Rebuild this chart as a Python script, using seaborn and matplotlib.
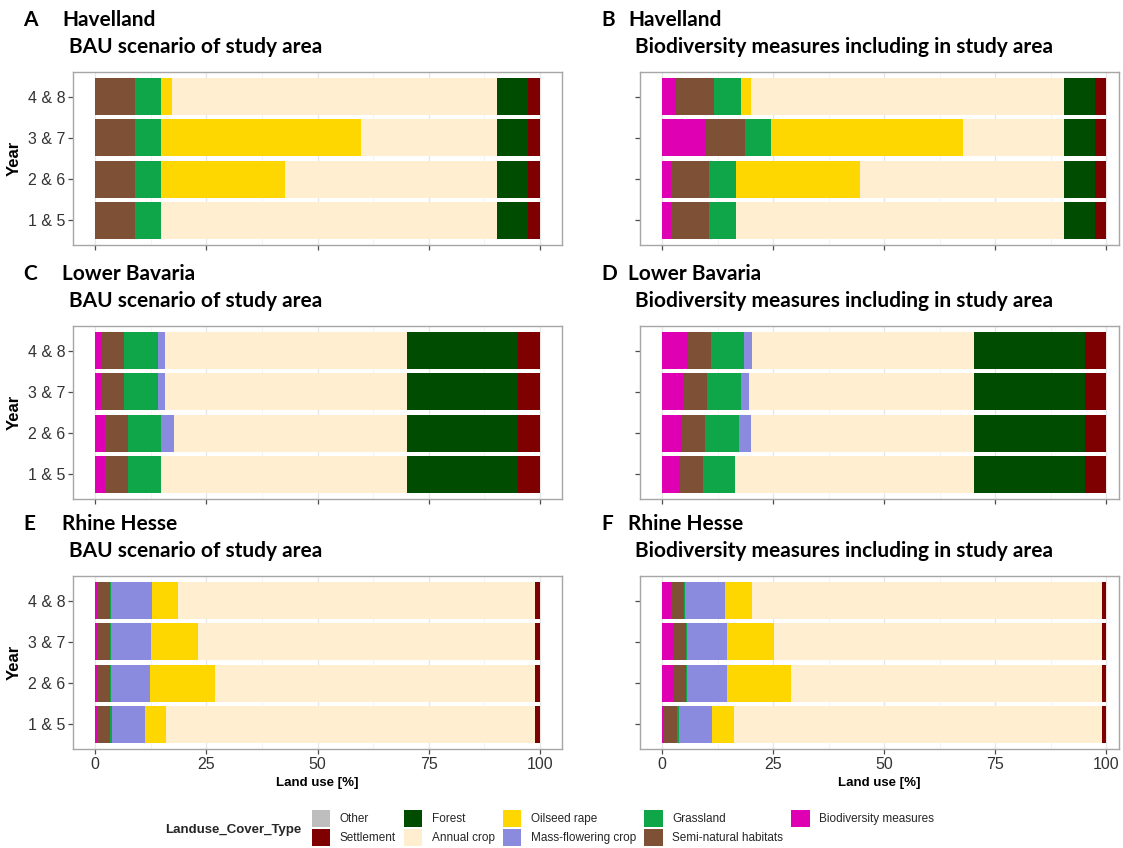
import matplotlib
matplotlib.use("Agg")
import matplotlib.pyplot as plt
from matplotlib.patches import Patch
import numpy as np
import pandas as pd
import seaborn as sns

# ---------------------------------------------------------------- data
years = ["1 & 5", "2 & 6", "3 & 7", "4 & 8"]

# legend order (ggplot factor levels)
cover_types = ["Other", "Settlement", "Forest", "Annual crop", "Oilseed rape",
               "Mass-flowering crop", "Grassland", "Semi-natural habitats",
               "Biodiversity measures"]
cover_colors = ["#BEBEBE", "#7F0000", "#004C00", "#FFEED0", "#FFD700",
                "#8A8ADF", "#0FA64A", "#7E5036", "#DE00B2"]

# shares [%] per cover type, rows in the order of `years`
havelland_bau = {
    "Biodiversity measures": [0.0, 0.0, 0.0, 0.0],
    "Semi-natural habitats": [8.9, 8.9, 8.9, 8.9],
    "Grassland": [6.0, 6.0, 6.0, 6.0],
    "Mass-flowering crop": [0.0, 0.0, 0.0, 0.0],
    "Oilseed rape": [0.0, 27.7, 44.8, 2.3],
    "Annual crop": [75.4, 47.7, 30.6, 73.1],
    "Forest": [7.1, 7.1, 7.1, 7.1],
    "Settlement": [2.6, 2.6, 2.6, 2.6],
    "Other": [0.0, 0.0, 0.0, 0.0],
}
havelland_bm = {
    "Biodiversity measures": [1.9, 2.0, 9.8, 3.0],
    "Semi-natural habitats": [8.7, 8.6, 8.8, 8.7],
    "Grassland": [6.0, 6.0, 6.0, 6.0],
    "Mass-flowering crop": [0.0, 0.0, 0.0, 0.0],
    "Oilseed rape": [0.0, 28.0, 43.1, 2.3],
    "Annual crop": [73.8, 45.8, 22.7, 70.4],
    "Forest": [7.1, 7.1, 7.1, 7.1],
    "Settlement": [2.5, 2.5, 2.5, 2.5],
    "Other": [0.0, 0.0, 0.0, 0.0],
}
bavaria_bau = {
    "Biodiversity measures": [2.1, 2.1, 1.2, 1.2],
    "Semi-natural habitats": [5.2, 5.2, 5.2, 5.2],
    "Grassland": [7.4, 7.6, 7.7, 7.7],
    "Mass-flowering crop": [0.0, 2.8, 1.7, 1.7],
    "Oilseed rape": [0.0, 0.0, 0.0, 0.0],
    "Annual crop": [55.4, 52.4, 54.3, 54.3],
    "Forest": [25.1, 25.1, 25.1, 25.1],
    "Settlement": [4.8, 4.8, 4.8, 4.8],
    "Other": [0.0, 0.0, 0.0, 0.0],
}
bavaria_bm = {
    "Biodiversity measures": [3.9, 4.4, 4.9, 5.7],
    "Semi-natural habitats": [5.2, 5.3, 5.3, 5.3],
    "Grassland": [7.4, 7.6, 7.5, 7.5],
    "Mass-flowering crop": [0.0, 2.8, 1.8, 1.8],
    "Oilseed rape": [0.0, 0.0, 0.0, 0.0],
    "Annual crop": [53.7, 50.1, 50.7, 49.9],
    "Forest": [25.1, 25.1, 25.1, 25.1],
    "Settlement": [4.7, 4.7, 4.7, 4.7],
    "Other": [0.0, 0.0, 0.0, 0.0],
}
hesse_bau = {
    "Biodiversity measures": [0.5, 0.5, 0.5, 0.5],
    "Semi-natural habitats": [2.8, 2.8, 2.8, 2.8],
    "Grassland": [0.5, 0.3, 0.3, 0.3],
    "Mass-flowering crop": [7.5, 8.7, 8.9, 9.2],
    "Oilseed rape": [4.7, 14.7, 10.7, 5.8],
    "Annual crop": [83.0, 72.0, 75.8, 80.4],
    "Forest": [0.0, 0.0, 0.0, 0.0],
    "Settlement": [1.0, 1.0, 1.0, 1.0],
    "Other": [0.0, 0.0, 0.0, 0.0],
}
hesse_bm = {
    "Biodiversity measures": [0.3, 2.6, 2.6, 2.0],
    "Semi-natural habitats": [3.1, 2.7, 2.7, 2.8],
    "Grassland": [0.4, 0.3, 0.3, 0.3],
    "Mass-flowering crop": [7.5, 8.9, 9.0, 9.0],
    "Oilseed rape": [4.8, 14.5, 10.6, 6.2],
    "Annual crop": [82.9, 70.0, 73.8, 78.7],
    "Forest": [0.0, 0.0, 0.0, 0.0],
    "Settlement": [1.0, 1.0, 1.0, 1.0],
    "Other": [0.0, 0.0, 0.0, 0.0],
}

x_ticks = [0, 25, 50, 75, 100]

# ---------------------------------------------------------------- style
sns.set_theme(style="white")
plt.rcParams["font.family"] = ["Liberation Sans", "DejaVu Sans"]

W, H = 1123, 848
fig = plt.figure(figsize=(W / 100, H / 100), dpi=100)

color_of = dict(zip(cover_types, cover_colors))
stack_order = cover_types[::-1]          # left-to-right in each bar
y_order = years[::-1]                    # "4 & 8" on top

panels = [
    ("A", "Havelland", "BAU scenario of study area", havelland_bau, 0, 0),
    ("B", "Havelland", "Biodiversity measures including in study area", havelland_bm, 0, 1),
    ("C", "Lower Bavaria", "BAU scenario of study area", bavaria_bau, 1, 0),
    ("D", "Lower Bavaria", "Biodiversity measures including in study area", bavaria_bm, 1, 1),
    ("E", "Rhine Hesse", "BAU scenario of study area", hesse_bau, 2, 0),
    ("F", "Rhine Hesse", "Biodiversity measures including in study area", hesse_bm, 2, 1),
]

row_top = [72, 326, 576]
panel_h = 173
col_x = [(73, 562, 105.0), (640, 1119, 102.9)]
letter_x = [23, 601]
name_x = [62, 628]
sub_x = [69, 635]

title_font = ["Lato", "DejaVu Sans"]

for letter, region, scenario, shares, r, c in panels:
    x0, x1, xmax = col_x[c]
    top = row_top[r]
    ax = fig.add_axes([x0 / W, 1 - (top + panel_h) / H, (x1 - x0) / W, panel_h / H])

    # grid (drawn beneath the bars)
    ax.set_axisbelow(True)
    for v in [12.5, 37.5, 62.5, 87.5]:
        ax.axvline(v, color="#F2F2F2", lw=0.6, zorder=0)
    ax.grid(True, axis="both", color="#E6E6E6", lw=0.9, zorder=0)

    df = pd.DataFrame(shares, index=years)
    cum = df[stack_order].cumsum(axis=1)
    # draw cumulative bars from the right end to the left so each segment shows
    for name in stack_order[::-1]:
        if df[name].sum() == 0:
            continue
        sns.barplot(x=cum[name].values, y=years, order=y_order, orient="h",
                    color=color_of[name], saturation=1, width=0.9,
                    errorbar=None, linewidth=0, ax=ax, zorder=2)

    ax.set_xlim(-5, xmax)
    ax.set_ylim(3.6, -0.6)
    ax.set_xticks(x_ticks)
    ax.set_xlabel("")
    ax.set_ylabel("")
    for s in ax.spines.values():
        s.set_color("#A6A6A6")
        s.set_linewidth(1.0)
    ax.tick_params(axis="both", length=3.5, width=0.9, color="#4D4D4D",
                   labelsize=11.5, labelcolor="#333333", pad=2,
                   left=True, bottom=True)
    if r < 2:
        ax.set_xticklabels([])
    else:
        ax.set_xlabel("Land use [%]", fontsize=9.5, fontweight="bold",
                      color="black", labelpad=4)
    if c == 1:
        ax.set_yticklabels([])
    else:
        ax.set_ylabel("Year", fontsize=12, fontweight="bold", color="black",
                      labelpad=4)

    # panel headings
    fig.text(letter_x[c] / W, 1 - (top - 46) / H, letter, family=title_font,
             fontsize=15, fontweight="bold", va="baseline", ha="left",
             color="black")
    fig.text(name_x[c] / W, 1 - (top - 46) / H, region, family=title_font,
             fontsize=15, fontweight="bold", va="baseline", ha="left",
             color="black")
    fig.text(sub_x[c] / W, 1 - (top - 19) / H, scenario, family=title_font,
             fontsize=15, fontweight="bold", va="baseline", ha="left",
             color="black")

# ---------------------------------------------------------------- legend
handles = [Patch(facecolor=color_of[n], edgecolor="none", label=n) for n in cover_types]
fig.legend(handles=handles, ncol=5, loc="center left",
           bbox_to_anchor=(312 / W, 1 - 828 / H), frameon=False,
           fontsize=8.5, handlelength=1.55, handleheight=1.75,
           handletextpad=0.8, columnspacing=0.7, labelspacing=0.2,
           borderpad=0, borderaxespad=0)
fig.text(165 / W, 1 - 830 / H, "Landuse_Cover_Type", fontsize=9.5,
         fontweight="bold", va="center", ha="left")

fig.savefig("out.png", dpi=100, facecolor="white")
